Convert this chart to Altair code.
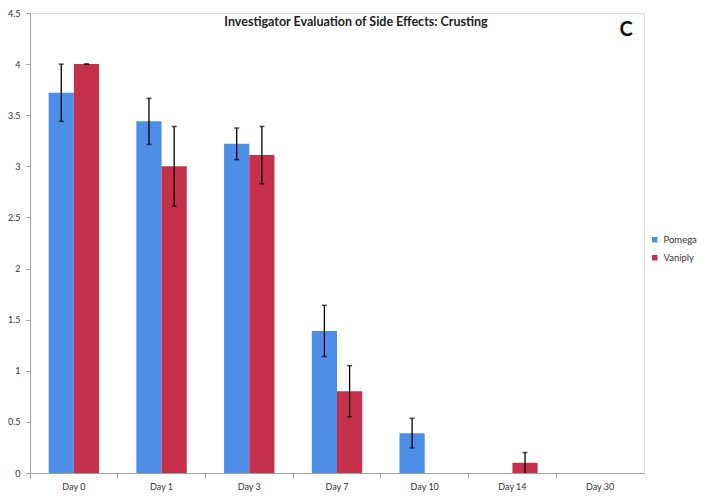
import altair as alt
import pandas as pd

days = ["Day 0", "Day 1", "Day 3", "Day 7", "Day 10", "Day 14", "Day 30"]
series = ["Pomega", "Vaniply"]
pomega = [3.72, 3.44, 3.22, 1.39, 0.39, 0.0, 0.0]
pomega_err = [0.28, 0.225, 0.155, 0.25, 0.145, None, None]
vaniply = [4.0, 3.0, 3.11, 0.80, 0.0, 0.1, 0.0]
vaniply_err = [0.0, 0.39, 0.28, 0.25, None, 0.1, None]
colors = ["#4D8FE8", "#C5314B"]
y_ticks = [0, 0.5, 1, 1.5, 2, 2.5, 3, 3.5, 4, 4.5]
title_text = "Investigator Evaluation of Side Effects: Crusting"
panel_letter = "C"

FONT = "Lato"

rows = []
for s, vals, errs in [("Pomega", pomega, pomega_err), ("Vaniply", vaniply, vaniply_err)]:
    for d, v, e in zip(days, vals, errs):
        rows.append({
            "day": d, "series": s, "value": v,
            "lo": (max(v - e, 0) if e is not None else None),
            "hi": (v + e if e is not None else None),
        })
df = pd.DataFrame(rows)
err_df = df.dropna(subset=["lo"])

W, H = 614, 460

x_enc = alt.X("day:N", sort=days,
              scale=alt.Scale(paddingInner=0, paddingOuter=0),
              axis=alt.Axis(title=None, labelAngle=0, bandPosition=0,
                            tickSize=5, tickColor="#A0A0A0",
                            domainColor="#A0A0A0", labelColor="#333333",
                            labelFontSize=9, labelFont=FONT, labelPadding=4))
xoff = alt.XOffset("series:N", sort=series,
                   scale=alt.Scale(paddingInner=0, paddingOuter=0.74))
y_scale = alt.Scale(domain=[0, 4.5], nice=False, zero=True)

bars = alt.Chart(df).mark_bar(opacity=1).encode(
    x=x_enc,
    xOffset=xoff,
    y=alt.Y("value:Q", scale=y_scale,
            axis=alt.Axis(values=y_ticks, grid=False, title=None, tickSize=4,
                          format="~g",
                          tickColor="#A0A0A0", domainColor="#A0A0A0",
                          labelColor="#333333", labelFontSize=9, labelFont=FONT,
                          labelPadding=6)),
    color=alt.Color("series:N", sort=series,
                    scale=alt.Scale(domain=series, range=colors),
                    legend=alt.Legend(title=None, orient="none", legendX=620,
                                      legendY=222, symbolType="square",
                                      symbolSize=30, labelFontSize=9.5,
                                      labelFont=FONT, labelColor="#333333",
                                      rowPadding=7, symbolStrokeWidth=0)),
)

rules = alt.Chart(err_df).mark_rule(color="black", strokeWidth=1.3).encode(
    x=alt.X("day:N", sort=days),
    xOffset=alt.XOffset("series:N", sort=series),
    y=alt.Y("lo:Q"),
    y2="hi:Q",
)
caps_hi = alt.Chart(err_df).mark_tick(color="black", orient="horizontal",
                                      size=5, thickness=1.5).encode(
    x=alt.X("day:N", sort=days),
    xOffset=alt.XOffset("series:N", sort=series),
    y=alt.Y("hi:Q"),
)
caps_lo = alt.Chart(err_df[err_df["lo"] > 0]).mark_tick(
    color="black", orient="horizontal", size=5, thickness=1.5).encode(
    x=alt.X("day:N", sort=days),
    xOffset=alt.XOffset("series:N", sort=series),
    y=alt.Y("lo:Q"),
)

title = alt.Chart(pd.DataFrame({"t": [title_text]})).mark_text(
    font=FONT, fontSize=12.5, fontWeight="bold", color="#222222",
    baseline="middle", align="center").encode(
    text="t:N", x=alt.value(326), y=alt.value(9))
letter = alt.Chart(pd.DataFrame({"t": [panel_letter]})).mark_text(
    font=FONT, fontSize=20, fontWeight="bold", color="#111111",
    baseline="middle", align="center").encode(
    text="t:N", x=alt.value(596), y=alt.value(17))

chart = alt.layer(bars, rules, caps_hi, caps_lo, title, letter).properties(
    width=W, height=H,
    autosize=alt.AutoSizeParams(type="none"),
    padding={"left": 22, "top": 5, "right": 62, "bottom": 25},
).configure_view(stroke=None).configure(background="white")

chart.save("out.html", embed_options={"renderer": "svg", "actions": False})
